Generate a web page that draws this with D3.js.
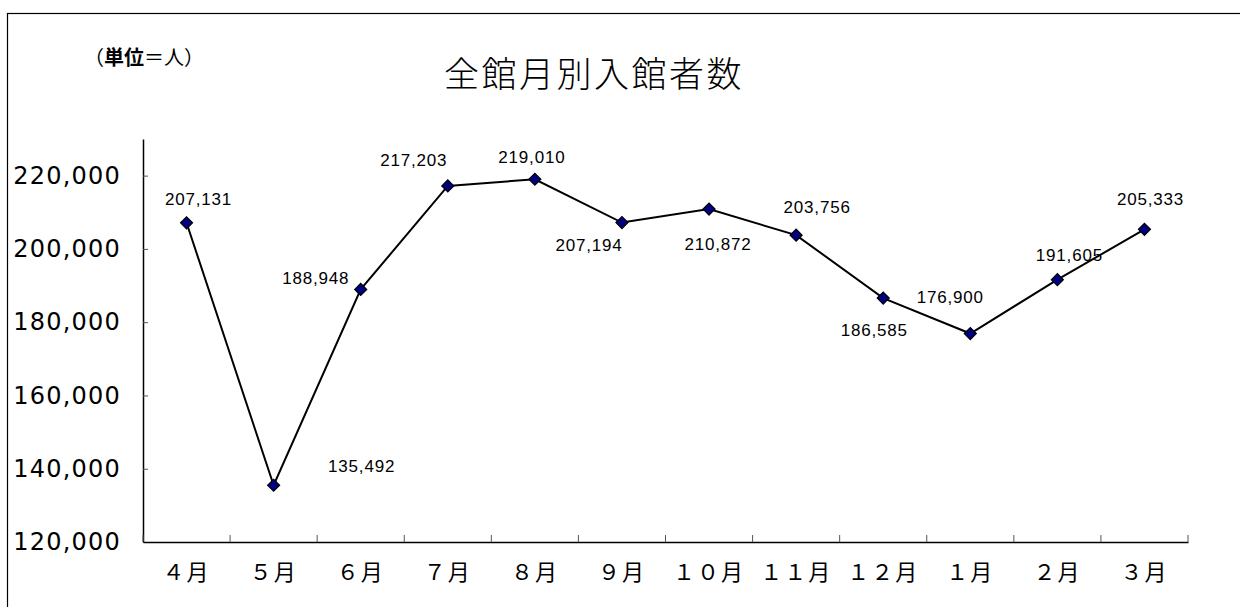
<!DOCTYPE html>
<html lang="ja">
<head>
    <meta charset="UTF-8">
    <title>全館月別入館者数</title>
    <script src="https://d3js.org/d3.v7.min.js"></script>
    <style>
        body { margin: 0; background: #ffffff; }
        .title { font-family: "Noto Sans CJK JP", sans-serif; font-size: 35px; font-weight: 300; letter-spacing: 2.5px; }
        .unit { font-family: "Noto Sans CJK JP", sans-serif; font-size: 20px; font-weight: 400; }
        .y-axis text { font-family: "DejaVu Sans", sans-serif; font-size: 24px; letter-spacing: 1.2px; fill: #000; }
        .x-axis text { font-family: "Noto Sans CJK JP", sans-serif; font-size: 22px; letter-spacing: 2px; fill: #000; }
        .value-label { font-family: "Liberation Sans", Arial, sans-serif; font-size: 17px; letter-spacing: 0.8px; }
        .line { fill: none; stroke: #000; stroke-width: 2; }
    </style>
</head>
<body>
    <svg id="chart" width="1240" height="607"></svg>
    <script>
        // data
        const months = ["４月", "５月", "６月", "７月", "８月", "９月", "１０月", "１１月", "１２月", "１月", "２月", "３月"];
        const visitors = [207131, 135492, 188948, 217203, 219010, 207194, 210872, 203756, 186585, 176900, 191605, 205333];
        const yTicks = [120000, 140000, 160000, 180000, 200000, 220000];

        // where each value label sits relative to its point (dx, dy)
        const labelOffsets = [[12, -18], [88, -13], [-45, -5], [-34, -20], [-3, -16], [-33, 28],
                              [9, 41], [21, -22], [-9, 38], [-20, -31], [12, -19], [6, -24]];

        const margin = { top: 139, right: 52, bottom: 65, left: 143 };
        const width = 1240 - margin.left - margin.right;
        const height = 607 - margin.top - margin.bottom;

        const root = d3.select("#chart");

        // outer frame
        root.append("rect")
            .attr("x", 7.5).attr("y", 13.5)
            .attr("width", 1300).attr("height", 700)
            .attr("fill", "none").attr("stroke", "#000").attr("stroke-width", 1.2);

        root.append("text")
            .attr("class", "title")
            .attr("x", 594).attr("y", 87)
            .attr("text-anchor", "middle")
            .text("全館月別入館者数");

        const unit = root.append("text")
            .attr("class", "unit")
            .attr("x", 84).attr("y", 65);
        unit.append("tspan").text("（");
        unit.append("tspan").attr("font-weight", 700).text("単位");
        unit.append("tspan").text("＝人）");

        const svg = root.append("g")
            .attr("transform", `translate(${margin.left},${margin.top})`);

        const x = d3.scaleBand().domain(months).range([0, width]);
        const y = d3.scaleLinear().domain([120000, 230000]).range([height, 0]);

        // y axis
        const yAxis = svg.append("g")
            .attr("class", "y-axis")
            .call(d3.axisLeft(y).tickValues(yTicks).tickFormat(d3.format(",")).tickSize(0).tickPadding(22));
        yAxis.select(".domain").attr("stroke", "#000").attr("stroke-width", 1.5);
        yAxis.selectAll(".tick")
            .append("line")
            .attr("x1", 0).attr("x2", 5)
            .attr("stroke", "#555");

        // x axis with tick marks at category boundaries
        const xAxis = svg.append("g")
            .attr("class", "x-axis")
            .attr("transform", `translate(0,${height})`)
            .call(d3.axisBottom(x).tickSize(0).tickPadding(22));
        xAxis.select(".domain").attr("stroke", "#000").attr("stroke-width", 1.5);
        xAxis.selectAll(".boundary")
            .data(d3.range(months.length + 1))
            .enter().append("line")
            .attr("x1", i => i < months.length ? x(months[i]) : width)
            .attr("x2", i => i < months.length ? x(months[i]) : width)
            .attr("y1", 0).attr("y2", -7)
            .attr("stroke", "#555");

        const cx = i => x(months[i]) + x.bandwidth() / 2;

        const line = d3.line()
            .x((d, i) => cx(i))
            .y(d => y(d));

        svg.append("path")
            .datum(visitors)
            .attr("class", "line")
            .attr("d", line);

        svg.selectAll(".marker")
            .data(visitors)
            .enter().append("path")
            .attr("class", "marker")
            .attr("d", d3.symbol().type(d3.symbolSquare).size(72))
            .attr("transform", (d, i) => `translate(${cx(i)},${y(d)}) rotate(45)`)
            .attr("fill", "#000080")
            .attr("stroke", "#000")
            .attr("stroke-width", 1.2);

        svg.selectAll(".value-label")
            .data(visitors)
            .enter().append("text")
            .attr("class", "value-label")
            .attr("x", (d, i) => cx(i) + labelOffsets[i][0])
            .attr("y", (d, i) => y(d) + labelOffsets[i][1])
            .attr("text-anchor", "middle")
            .text(d => d3.format(",")(d));
    </script>
</body>
</html>
